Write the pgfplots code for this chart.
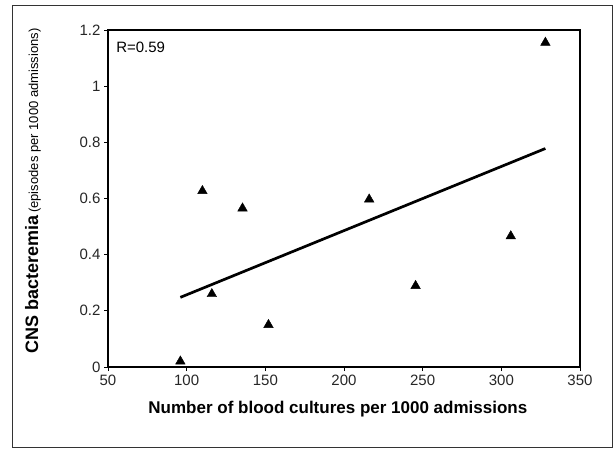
\documentclass[border=0pt]{standalone}
\usepackage{pgfplots}
\pgfplotsset{compat=1.18}
\usepackage{fontspec}
\setmainfont{Liberation Sans}

\begin{document}
\begin{tikzpicture}[x=1pt,y=1pt]
  % page size and outer frame
  \path (0,0) rectangle (615,450);
  \draw[line width=1pt, black!80] (12,3) rectangle (612,444);

  \begin{axis}[
    at={(108pt,83pt)}, anchor=south west,
    scale only axis, width=472pt, height=337pt,
    xmin=50, xmax=350, ymin=0, ymax=1.2,
    xtick={50,100,...,350}, ytick={0,0.2,...,1.2},
    yticklabels={0,0.2,0.4,0.6,0.8,1,1.2},
    xtick pos=bottom, ytick pos=left,
    tick align=outside, major tick length=4pt,
    axis line style={line width=1.1pt},
    tick style={black, line width=0.7pt},
    ticklabel style={font=\fontsize{15}{17}\selectfont, text=black!85},
    /pgf/number format/assume math mode=true,
    xlabel={\bfseries\fontsize{17}{19}\selectfont Number of blood cultures per 1000 admissions},
    xlabel style={at={(axis description cs:0.487,-0.125)}, anchor=center},
    ylabel={{\bfseries\fontsize{18}{20}\selectfont CNS bacteremia} {\fontsize{13}{15}\selectfont (episodes per 1000 admissions)}},
    ylabel style={at={(axis description cs:-0.159,0.522)}, anchor=center},
    clip=false,
  ]
    \addplot[only marks, mark=triangle*, mark size=5.5pt, black] coordinates {
      (96,0.02) (110,0.627) (116,0.26) (135.5,0.565) (152,0.15)
      (216,0.597) (245.5,0.289) (306,0.466) (328,1.155)
    };
    \addplot[black, line width=2.7pt] coordinates {
      (96,0.248) (328,0.778)
    };
    \node[anchor=west, font=\fontsize{15}{17}\selectfont] at (axis cs:53,1.14) {R=0.59};
  \end{axis}
\end{tikzpicture}
\end{document}
